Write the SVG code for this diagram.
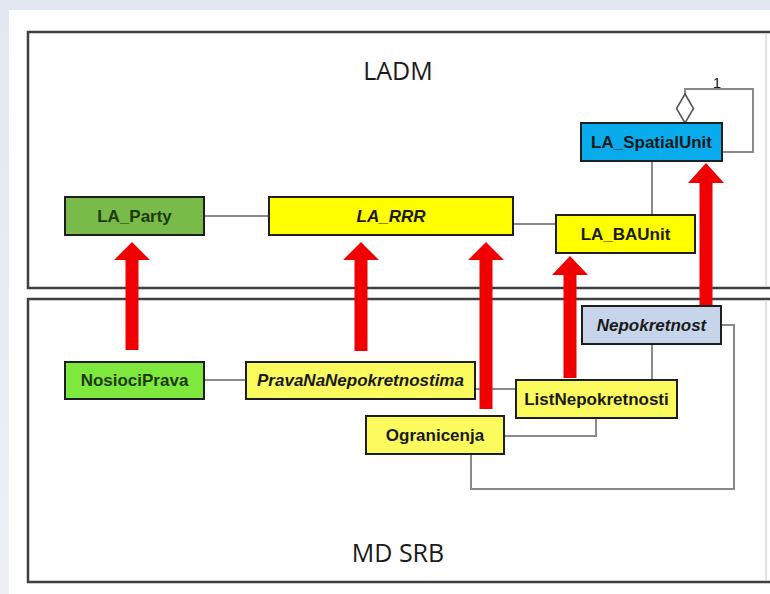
<svg xmlns="http://www.w3.org/2000/svg" width="770" height="594" viewBox="0 0 770 594">
  <defs>
    <linearGradient id="bg" x1="0" y1="0" x2="0" y2="1">
      <stop offset="0" stop-color="#e3e7f1"/>
      <stop offset="1" stop-color="#eef0f6"/>
    </linearGradient>
  </defs>
  <style>
    .frame { fill: none; stroke: #3f3f3f; stroke-width: 2.5; }
    .edge { fill: none; stroke: #d8d8d8; stroke-width: 1.5; }
    .box { stroke: #1e1e1e; stroke-width: 2; }
    .lbl { font-family: "Liberation Sans", Arial, sans-serif; font-size: 17px; font-weight: bold; fill: #1a1a1a; text-anchor: middle; }
    .it { font-style: italic; }
    .dk { fill: #1d3a0e; }
    .title { font-family: "Open Sans", "Liberation Sans", sans-serif; font-size: 25px; fill: #1a1a1a; text-anchor: middle; }
    .con { fill: none; stroke: #8a8a8a; stroke-width: 2; }
    .arrow { fill: #f00000; }
    .mult { font-family: "Liberation Sans", Arial, sans-serif; font-size: 15px; fill: #1a1a1a; text-anchor: middle; }
  </style>

  <rect x="0" y="0" width="770" height="594" fill="url(#bg)"/>
  <rect x="9" y="10" width="761" height="584" fill="#ffffff"/>

  <g id="frame-ladm">
    <polyline class="frame" points="770,32 28,32 28,288 770,288"/>
    <line class="edge" x1="766" y1="33" x2="766" y2="287"/>
    <text class="title" x="398" y="80">LADM</text>
  </g>
  <g id="frame-mdsrb">
    <polyline class="frame" points="770,299 28,299 28,582 770,582" stroke="#555"/>
    <line class="edge" x1="766" y1="300" x2="766" y2="581"/>
    <text class="title" x="398" y="562">MD SRB</text>
  </g>

  <g id="connectors">
    <line class="con" x1="204" y1="216" x2="269" y2="216"/>
    <line class="con" x1="513" y1="224" x2="556" y2="224"/>
    <line class="con" x1="652" y1="161" x2="652" y2="215"/>
    <polyline class="con" points="685,94 685,89 753,89 753,152 722,152"/>
    <polygon points="685,94 693.5,108.5 685,123 676.5,108.5" fill="#ffffff" stroke="#555" stroke-width="1.6"/>
    <text class="mult" x="717" y="88">1</text>

    <line class="con" x1="204" y1="380" x2="246" y2="380"/>
    <line class="con" x1="475" y1="389" x2="516" y2="389"/>
    <line class="con" x1="652" y1="344" x2="652" y2="380"/>
    <polyline class="con" points="504,436 596,436 596,418"/>
    <polyline class="con" points="471,454 471,489 734,489 734,325 721,325"/>
  </g>

  <g id="LA_Party">
    <rect class="box" x="65" y="197" width="139" height="38" fill="#78bb48"/>
    <text class="lbl dk" x="134.5" y="222">LA_Party</text>
  </g>
  <g id="LA_RRR">
    <rect class="box" x="269" y="197" width="244" height="38" fill="#ffff00"/>
    <text class="lbl it" x="391" y="222">LA_RRR</text>
  </g>
  <g id="LA_BAUnit">
    <rect class="box" x="556" y="215" width="139" height="38" fill="#ffff00"/>
    <text class="lbl" x="625.5" y="240">LA_BAUnit</text>
  </g>
  <g id="LA_SpatialUnit">
    <rect class="box" x="581" y="123" width="141" height="38" fill="#08acec"/>
    <text class="lbl" x="651.5" y="148">LA_SpatialUnit</text>
  </g>
  <g id="NosiociPrava">
    <rect class="box" x="65" y="362" width="139" height="37" fill="#7ee83c"/>
    <text class="lbl dk" x="134.5" y="386">NosiociPrava</text>
  </g>
  <g id="PravaNaNepokretnostima">
    <rect class="box" x="246" y="362" width="229" height="37" fill="#fbfb5e"/>
    <text class="lbl it" x="360.5" y="386">PravaNaNepokretnostima</text>
  </g>
  <g id="Ogranicenja">
    <rect class="box" x="366" y="416" width="138" height="38" fill="#fbfb5e"/>
    <text class="lbl" x="435" y="441">Ogranicenja</text>
  </g>
  <g id="ListNepokretnosti">
    <rect class="box" x="516" y="380" width="161" height="38" fill="#fbfb5e"/>
    <text class="lbl" x="596.5" y="405">ListNepokretnosti</text>
  </g>
  <g id="Nepokretnost">
    <rect class="box" x="582" y="306" width="139" height="38" fill="#c6d5ea"/>
    <text class="lbl it" x="651.5" y="331">Nepokretnost</text>
  </g>

  <g id="mapping-arrows">
    <polygon class="arrow" points="132,242 150,260 138.5,260 138.5,350 125.5,350 125.5,260 114,260"/>
    <polygon class="arrow" points="361,242 379,260 367.5,260 367.5,351 354.5,351 354.5,260 343,260"/>
    <polygon class="arrow" points="486,242 504,260 492.5,260 492.5,409 479.5,409 479.5,260 468,260"/>
    <polygon class="arrow" points="570,256 588,275 576.5,275 576.5,378 563.5,378 563.5,275 552,275"/>
    <polygon class="arrow" points="706,163 724,183 712.5,183 712.5,305 699.5,305 699.5,183 688,183"/>
  </g>
</svg>
